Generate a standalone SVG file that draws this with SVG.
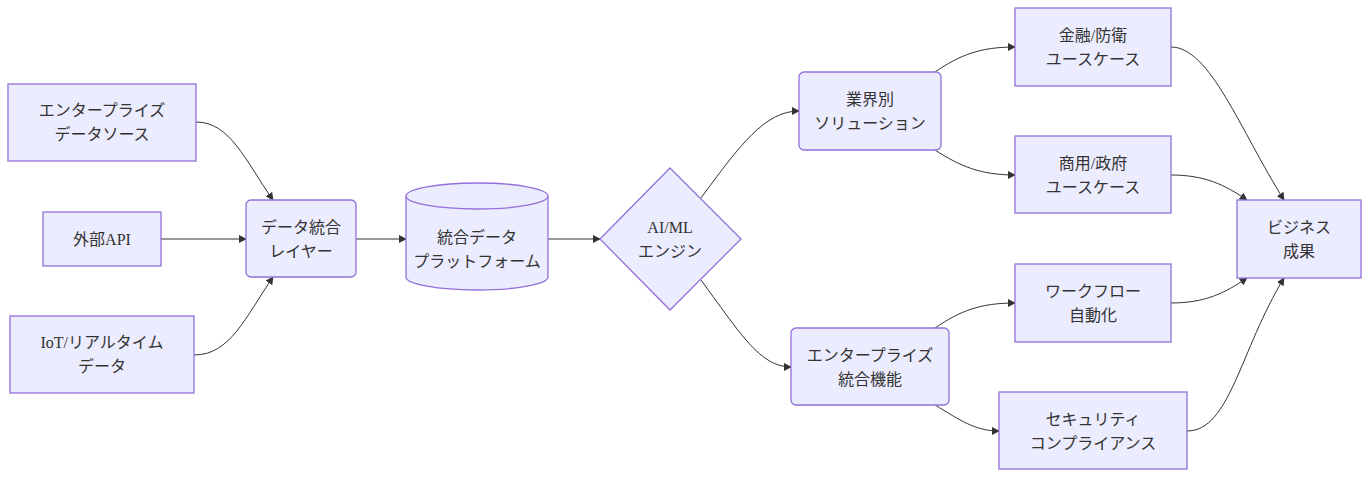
<svg xmlns="http://www.w3.org/2000/svg" width="1369" height="478" viewBox="0 0 1369 478">
<style>
.n{fill:#ECECFF;stroke:#9370DB;stroke-width:1.3}
.t{font-family:"Liberation Serif","Noto Sans CJK JP",serif;font-size:16px;fill:#333;text-anchor:middle}
.e{fill:none;stroke:#333;stroke-width:1}
</style>
<defs><marker id="a" viewBox="0 0 10 10" refX="9" refY="5" markerWidth="8" markerHeight="8" orient="auto" markerUnits="userSpaceOnUse"><path d="M0,0L10,5L0,10z" fill="#333"/></marker></defs>
<rect width="1369" height="478" fill="#fff"/>
<g id="edges">
<path class="e" marker-end="url(#a)" d="M196,122C230,122 245,160 273,200"/>
<path class="e" marker-end="url(#a)" d="M161,239L246,239"/>
<path class="e" marker-end="url(#a)" d="M194,355C230,355 245,318 273,277"/>
<path class="e" marker-end="url(#a)" d="M356,239L406,239"/>
<path class="e" marker-end="url(#a)" d="M548,239L600,239"/>
<path class="e" marker-end="url(#a)" d="M701,198C740,145 765,111 799,111"/>
<path class="e" marker-end="url(#a)" d="M701,280C740,333 760,367 791,367"/>
<path class="e" marker-end="url(#a)" d="M935,72C960,55 980,47 1015,47"/>
<path class="e" marker-end="url(#a)" d="M935,150C960,166 980,175 1015,175"/>
<path class="e" marker-end="url(#a)" d="M935,328C960,311 980,303 1015,303"/>
<path class="e" marker-end="url(#a)" d="M935,405C960,420 975,431 999,431"/>
<path class="e" marker-end="url(#a)" d="M1171,47C1210,47 1240,130 1284,200"/>
<path class="e" marker-end="url(#a)" d="M1171,175C1205,175 1225,185 1247,200"/>
<path class="e" marker-end="url(#a)" d="M1171,303C1205,303 1225,293 1247,278"/>
<path class="e" marker-end="url(#a)" d="M1187,431C1230,431 1240,350 1284,278"/>
</g>
<g id="n1"><rect class="n" x="8" y="84" width="188" height="77"/><text class="t" x="102" y="116">エンタープライズ</text><text class="t" x="102" y="140">データソース</text></g>
<g id="n2"><rect class="n" x="43" y="212" width="118" height="54"/><text class="t" x="102" y="245">外部API</text></g>
<g id="n3"><rect class="n" x="10" y="316" width="184" height="77"/><text class="t" x="102" y="348">IoT/リアルタイム</text><text class="t" x="102" y="372">データ</text></g>
<g id="n4"><rect class="n" x="246" y="200" width="110" height="77" rx="5"/><text class="t" x="301" y="233">データ統合</text><text class="t" x="301" y="257">レイヤー</text></g>
<g id="n5"><path class="n" d="M406,196A71,13 0 0 1 548,196L548,277A71,13 0 0 1 406,277Z"/><path class="n" fill="none" d="M406,196A71,13 0 0 0 548,196"/><text class="t" x="477" y="243">統合データ</text><text class="t" x="477" y="267">プラットフォーム</text></g>
<g id="n6"><path class="n" d="M670,168L741,239L670,310L600,239Z"/><text class="t" x="670" y="233">AI/ML</text><text class="t" x="670" y="257">エンジン</text></g>
<g id="n7"><rect class="n" x="799" y="72" width="142" height="78" rx="5"/><text class="t" x="870" y="105">業界別</text><text class="t" x="870" y="129">ソリューション</text></g>
<g id="n8"><rect class="n" x="791" y="328" width="158" height="77" rx="5"/><text class="t" x="870" y="361">エンタープライズ</text><text class="t" x="870" y="385">統合機能</text></g>
<g id="n9"><rect class="n" x="1015" y="8" width="156" height="78"/><text class="t" x="1093" y="41">金融/防衛</text><text class="t" x="1093" y="65">ユースケース</text></g>
<g id="n10"><rect class="n" x="1015" y="136" width="156" height="77"/><text class="t" x="1093" y="169">商用/政府</text><text class="t" x="1093" y="193">ユースケース</text></g>
<g id="n11"><rect class="n" x="1015" y="264" width="156" height="78"/><text class="t" x="1093" y="297">ワークフロー</text><text class="t" x="1093" y="321">自動化</text></g>
<g id="n12"><rect class="n" x="999" y="392" width="188" height="77"/><text class="t" x="1093" y="425">セキュリティ</text><text class="t" x="1093" y="449">コンプライアンス</text></g>
<g id="n13"><rect class="n" x="1237" y="200" width="124" height="78"/><text class="t" x="1299" y="233">ビジネス</text><text class="t" x="1299" y="257">成果</text></g>
</svg>
